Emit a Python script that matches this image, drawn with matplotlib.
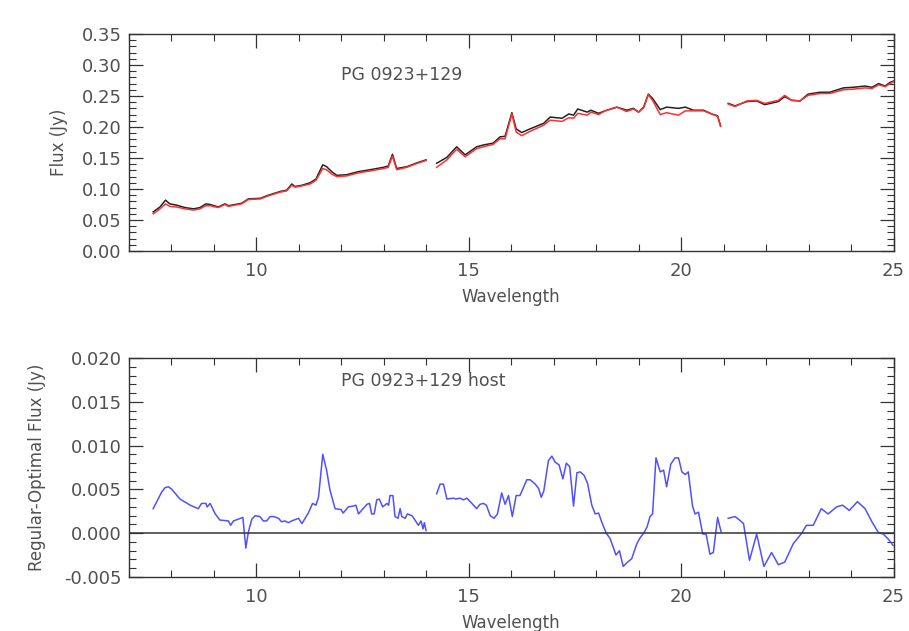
import matplotlib.pyplot as plt
import numpy as np
from matplotlib.ticker import MultipleLocator, FormatStrFormatter

# ---- top panel: regular (black) and optimal (red) spectra, three segments
wave_top = [
    [7.58, 7.74, 7.87, 7.97, 8.13, 8.33, 8.53, 8.68, 8.82, 8.92, 9.11, 9.27, 9.35,
     9.66, 9.82, 10.1, 10.29, 10.57, 10.72, 10.84, 10.92, 11.08, 11.27, 11.41, 11.57,
     11.66, 11.78, 11.9, 12.13, 12.41, 12.68, 13.0, 13.11, 13.21, 13.31, 13.55, 13.78, 14.0],
    [14.25, 14.49, 14.72, 14.92, 15.19, 15.35, 15.58, 15.74, 15.86, 16.02, 16.12, 16.25,
     16.45, 16.77, 16.92, 17.2, 17.36, 17.47, 17.57, 17.79, 17.88, 18.06, 18.21, 18.49,
     18.72, 18.88, 19.0, 19.12, 19.23, 19.33, 19.51, 19.66, 19.94, 20.1, 20.29, 20.53,
     20.72, 20.86, 20.93],
    [21.11, 21.27, 21.55, 21.78, 21.97, 22.29, 22.44, 22.6, 22.8, 22.99, 23.27, 23.5,
     23.82, 24.05, 24.33, 24.49, 24.65, 24.8, 24.92, 25.0],
]
flux_regular = [
    [0.063, 0.071, 0.082, 0.076, 0.074, 0.070, 0.068, 0.070, 0.076, 0.075, 0.071, 0.076,
     0.073, 0.077, 0.084, 0.085, 0.090, 0.096, 0.098, 0.108, 0.104, 0.106, 0.110, 0.116,
     0.139, 0.136, 0.128, 0.122, 0.123, 0.128, 0.131, 0.135, 0.137, 0.156, 0.133, 0.136,
     0.142, 0.147],
    [0.1415, 0.151, 0.168, 0.155, 0.168, 0.171, 0.174, 0.184, 0.185, 0.223, 0.197, 0.191,
     0.197, 0.206, 0.216, 0.214, 0.221, 0.219, 0.229, 0.224, 0.227, 0.222, 0.226, 0.232,
     0.227, 0.230, 0.224, 0.232, 0.253, 0.246, 0.228, 0.232, 0.230, 0.232, 0.227, 0.227,
     0.221, 0.218, 0.202],
    [0.238, 0.234, 0.241, 0.242, 0.236, 0.241, 0.249, 0.243, 0.242, 0.253, 0.256, 0.256,
     0.263, 0.264, 0.266, 0.264, 0.270, 0.266, 0.272, 0.274],
]
flux_optimal = [
    [0.060, 0.068, 0.076, 0.072, 0.071, 0.068, 0.066, 0.068, 0.073, 0.073, 0.070, 0.075,
     0.072, 0.076, 0.083, 0.084, 0.089, 0.095, 0.097, 0.106, 0.103, 0.105, 0.108, 0.114,
     0.133, 0.131, 0.124, 0.120, 0.121, 0.126, 0.129, 0.133, 0.135, 0.153, 0.131, 0.135,
     0.141, 0.146],
    [0.135, 0.147, 0.164, 0.152, 0.165, 0.168, 0.172, 0.181, 0.181, 0.221, 0.192, 0.186,
     0.193, 0.203, 0.211, 0.209, 0.215, 0.214, 0.222, 0.219, 0.224, 0.220, 0.226, 0.232,
     0.225, 0.229, 0.224, 0.231, 0.252, 0.243, 0.220, 0.223, 0.219, 0.226, 0.226, 0.226,
     0.221, 0.217, 0.201],
    [0.237, 0.233, 0.242, 0.243, 0.238, 0.243, 0.251, 0.243, 0.242, 0.251, 0.254, 0.254,
     0.260, 0.261, 0.263, 0.262, 0.268, 0.265, 0.270, 0.273],
]

# ---- bottom panel: regular - optimal difference (host)
wave_diff = [
    [7.58, 7.78, 7.86, 7.94, 8.02, 8.21, 8.45, 8.64, 8.72, 8.82, 8.85, 8.92, 9.04, 9.15,
     9.35, 9.40, 9.47, 9.69, 9.76, 9.82, 9.90, 9.98, 10.09, 10.17, 10.25, 10.33, 10.41,
     10.53, 10.60, 10.68, 10.76, 10.84, 11.0, 11.08, 11.23, 11.33, 11.41, 11.47, 11.57,
     11.66, 11.74, 11.86, 12.0, 12.05, 12.17, 12.29, 12.35, 12.41, 12.61, 12.67, 12.72,
     12.78, 12.84, 12.90, 12.98, 13.08, 13.12, 13.15, 13.22, 13.27, 13.34, 13.39, 13.43,
     13.51, 13.56, 13.67, 13.74, 13.82, 13.88, 13.93, 13.96, 14.0],
    [14.25, 14.33, 14.41, 14.49, 14.65, 14.70, 14.80, 14.88, 14.96, 15.08, 15.19, 15.27,
     15.35, 15.42, 15.51, 15.60, 15.68, 15.78, 15.86, 15.94, 16.03, 16.12, 16.21, 16.37,
     16.45, 16.57, 16.65, 16.71, 16.77, 16.88, 16.96, 17.04, 17.13, 17.22, 17.30, 17.38,
     17.47, 17.55, 17.63, 17.72, 17.80, 17.90, 17.98, 18.06, 18.14, 18.24, 18.33, 18.47,
     18.55, 18.64, 18.72, 18.84, 18.96, 19.04, 19.12, 19.20, 19.27, 19.33, 19.41, 19.51,
     19.59, 19.66, 19.76, 19.86, 19.94, 20.02, 20.10, 20.17, 20.27, 20.33, 20.41, 20.51,
     20.59, 20.68, 20.76, 20.86, 20.94],
    [21.11, 21.27, 21.35, 21.47, 21.61, 21.78, 21.95, 22.13, 22.29, 22.44, 22.64, 22.84,
     22.95, 23.11, 23.30, 23.46, 23.66, 23.80, 23.96, 24.15, 24.33, 24.48, 24.64, 24.76,
     24.88, 24.99],
]
flux_diff = [
    [0.0028, 0.0047, 0.0052, 0.0053, 0.0050, 0.0039, 0.0032, 0.0028, 0.0034, 0.0034,
     0.0030, 0.0034, 0.0022, 0.0015, 0.0014, 0.0009, 0.0014, 0.0018, -0.0017, 0.00015,
     0.0016, 0.0020, 0.0019, 0.0014, 0.0014, 0.0019, 0.0019, 0.0017, 0.0013, 0.0014,
     0.0012, 0.0014, 0.0017, 0.0011, 0.0023, 0.0034, 0.0032, 0.0041, 0.0090, 0.0072,
     0.0049, 0.0028, 0.0027, 0.0023, 0.0030, 0.0031, 0.0032, 0.0022, 0.0033, 0.0034,
     0.0022, 0.0022, 0.0038, 0.0039, 0.0030, 0.0034, 0.0032, 0.0043, 0.0043, 0.0019,
     0.0017, 0.0028, 0.0019, 0.0017, 0.0022, 0.0020, 0.0015, 0.0009, 0.0014, 0.0005,
     0.0012, 0.0003],
    [0.0045, 0.0056, 0.0056, 0.0039, 0.0040, 0.0039, 0.0040, 0.0038, 0.0040, 0.0034,
     0.0028, 0.0033, 0.0034, 0.0032, 0.0020, 0.0017, 0.0022, 0.0046, 0.0033, 0.0043,
     0.0019, 0.0043, 0.0043, 0.0061, 0.0061, 0.0056, 0.0051, 0.0041, 0.0048, 0.0083,
     0.0088, 0.0081, 0.0078, 0.0062, 0.0080, 0.0076, 0.0031, 0.0069, 0.0070, 0.0066,
     0.0057, 0.0032, 0.0022, 0.0023, 0.0012, 0.0000, -0.0006, -0.0025, -0.0020, -0.0038,
     -0.0034, -0.0029, -0.0012, -0.0005, 0.0000, 0.0007, 0.0019, 0.0022, 0.0086, 0.0070,
     0.0072, 0.0053, 0.0079, 0.0086, 0.0086, 0.0070, 0.0067, 0.0070, 0.0031, 0.0022,
     0.0024, -0.0001, -0.0001, -0.0024, -0.0022, 0.0018, 0.0002],
    [0.0017, 0.0019, 0.0016, 0.0011, -0.0031, -0.0001, -0.0038, -0.0022, -0.0036, -0.0033,
     -0.0012, 0.0000, 0.0009, 0.0009, 0.0028, 0.0022, 0.0030, 0.0032, 0.0026, 0.0036,
     0.0028, 0.0014, 0.0001, -0.0001, -0.0007, -0.0014],
]

text_color = '#505050'
plt.rcParams['font.family'] = 'DejaVu Sans'

fig = plt.figure(figsize=(9.09, 6.31), dpi=100)
ax1 = fig.add_axes([0.1414, 0.6022, 0.8416, 0.344])
ax2 = fig.add_axes([0.1414, 0.0856, 0.8416, 0.347])

for w, r, o in zip(wave_top, flux_regular, flux_optimal):
    ax1.plot(w, r, color='#222222', lw=1.1)
    ax1.plot(w, o, color='#ff3030', lw=1.1)

for w, d in zip(wave_diff, flux_diff):
    ax2.plot(w, d, color='#5050ff', lw=1.1)
ax2.axhline(0.0, color='#333333', lw=1.1)

ax1.set_xlim(7, 25)
ax1.set_ylim(0, 0.35)
ax2.set_xlim(7, 25)
ax2.set_ylim(-0.005, 0.020)

ax1.yaxis.set_major_locator(MultipleLocator(0.05))
ax1.yaxis.set_minor_locator(MultipleLocator(0.01))
ax1.yaxis.set_major_formatter(FormatStrFormatter('%.2f'))
ax2.yaxis.set_major_locator(MultipleLocator(0.005))
ax2.yaxis.set_minor_locator(MultipleLocator(0.001))
ax2.yaxis.set_major_formatter(FormatStrFormatter('%.3f'))

for ax in (ax1, ax2):
    ax.xaxis.set_major_locator(MultipleLocator(5))
    ax.xaxis.set_minor_locator(MultipleLocator(1))
    ax.tick_params(which='both', direction='in', top=True, right=True,
                   colors='#333333', labelcolor=text_color, labelsize=13)
    ax.tick_params(axis='x', which='major', pad=8)
    ax.tick_params(axis='y', which='major', pad=5)
    ax.tick_params(which='major', length=10, width=0.9)
    ax.tick_params(which='minor', length=5, width=0.8)
    for s in ax.spines.values():
        s.set_color('#333333')
        s.set_linewidth(1.0)
    ax.set_xlabel('Wavelength', color=text_color, fontsize=12, labelpad=6)

ax1.set_ylabel('Flux (Jy)', color=text_color, fontsize=12)
ax2.set_ylabel('Regular-Optimal Flux (Jy)', color=text_color, fontsize=12)
# y labels placed just left of each panel's tick labels
ax1.yaxis.set_label_coords(-0.079, 0.5)
ax2.yaxis.set_label_coords(-0.108, 0.5)

ax1.text(12.0, 0.284, 'PG 0923+129', color=text_color, fontsize=12.5, va='center')
ax2.text(12.0, 0.0174, 'PG 0923+129 host', color=text_color, fontsize=12.5, va='center')

fig.savefig('out.png', dpi=100)
